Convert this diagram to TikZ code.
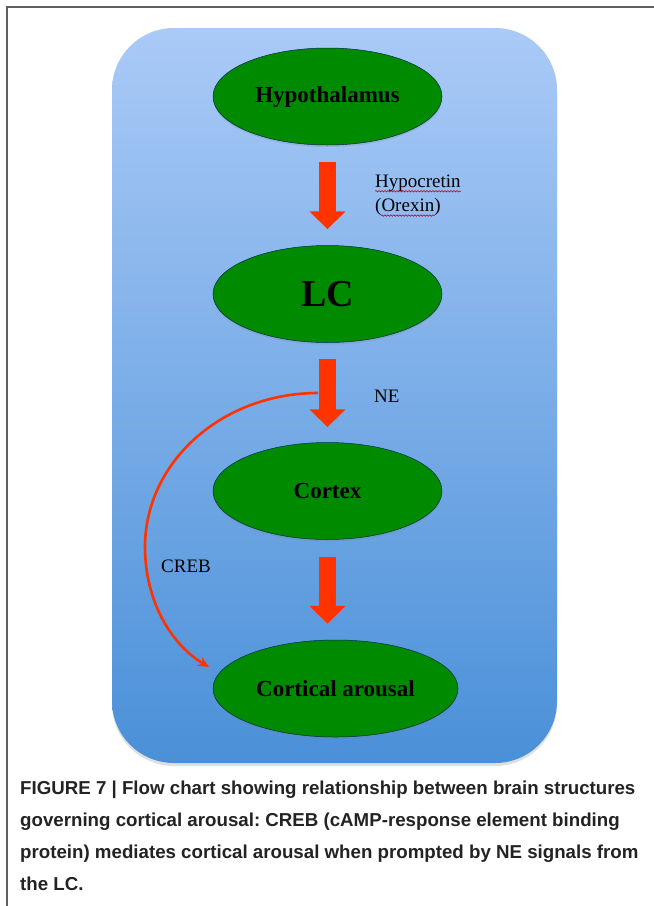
\documentclass[tikz,border=0pt]{standalone}
\usepackage{fontspec}
\setmainfont{Liberation Serif}
\newfontfamily\capfont{Liberation Sans}
\frenchspacing
\usetikzlibrary{arrows.meta,shapes.geometric,shadows,decorations.pathmorphing}
\definecolor{panelTop}{RGB}{170,202,247}
\definecolor{panelBottom}{RGB}{74,144,216}
\definecolor{regionGreen}{RGB}{0,138,0}
\definecolor{flowRed}{RGB}{255,51,0}
\definecolor{frameGray}{RGB}{95,95,95}
\definecolor{capGray}{RGB}{35,35,35}

\begin{document}
\begin{tikzpicture}[x=1pt, y=-1pt,
  region/.style = {ellipse, fill=regionGreen, draw=regionGreen!55!blue!60!black, line width=.5pt, minimum width=229pt, minimum height=97pt, inner sep=0pt, font=\fontsize{23}{26}\selectfont\bfseries, drop shadow={shadow xshift=0pt, shadow yshift=-2pt, opacity=.25}},
  flow/.style = {draw=flowRed, line width=17pt, -{Triangle[width=35pt, length=18pt]}},
  signal/.style = {draw=flowRed, line width=2.6pt, -{Stealth[length=11pt, width=10pt]}},
  tag/.style = {anchor=west, inner sep=0pt, font=\fontsize{19}{22}\selectfont},
  squiggle/.style = {draw=red!80!black, line width=.6pt, decorate, decoration={snake, amplitude=.7pt, segment length=3pt}},
  caption/.style = {anchor=base west, inner sep=0pt, text=capGray, font=\capfont\bfseries\fontsize{18.7}{20}\selectfont}]

\useasboundingbox (0,0) rectangle (654,906);
\fill[white] (0,0) rectangle (654,906);
\draw[frameGray, line width=1.5pt] (7,906) -- (7,7) -- (654,7);

\path[rounded corners=62pt, top color=panelTop, bottom color=panelBottom, drop shadow={shadow xshift=0pt, shadow yshift=-3pt, opacity=.25}] (112,28) rectangle (557,763);

\node[region] (hyp) at (327.5,96.5) {Hypothalamus};
\node[region, font=\fontsize{38}{42}\selectfont\bfseries] (lc) at (327.5,294) {LC};
\node[region] (cortex) at (327.5,491) {Cortex};
\node[region, minimum width=245pt] (arousal) at (335.5,688.5) {Cortical arousal};

\draw[flow] ([yshift=-17pt]hyp.south) -- ([yshift=16pt]lc.north);
\draw[flow] ([yshift=-16pt]lc.south) -- ([yshift=15pt]cortex.north);
\draw[flow] ([yshift=-17pt]cortex.south) -- ([yshift=16pt]cortex.south |- arousal.north);

\coordinate (neTap) at (318,393);
\coordinate (crebEnd) at (209,667);
\draw[signal] (neTap) .. controls (222,393) and (145,462) .. (145,547) .. controls (145,602) and (172,645) .. (crebEnd);

\node[tag] (hypocretin) at (375,183) {Hypocretin};
\node[tag] (orexin) at (375,207) {(Orexin)};
\node[tag] (ne) at (374,396) {NE};
\node[tag] (creb) at (161,566) {CREB};

\draw[squiggle] ([yshift=-4pt]hypocretin.base west) -- ([yshift=-4pt]hypocretin.base east);
\draw[squiggle] ([xshift=6pt, yshift=-4pt]orexin.base west) -- ([xshift=-6pt, yshift=-4pt]orexin.base east);

\node[caption] (cap1) at (20,794) {FIGURE 7 | Flow chart showing relationship between brain structures};
\node[caption] (cap2) at (20,826) {governing cortical arousal: CREB (cAMP-response element binding};
\node[caption] (cap3) at (20,858) {protein) mediates cortical arousal when prompted by NE signals from};
\node[caption] (cap4) at (20,890) {the LC.};

\end{tikzpicture}
\end{document}
